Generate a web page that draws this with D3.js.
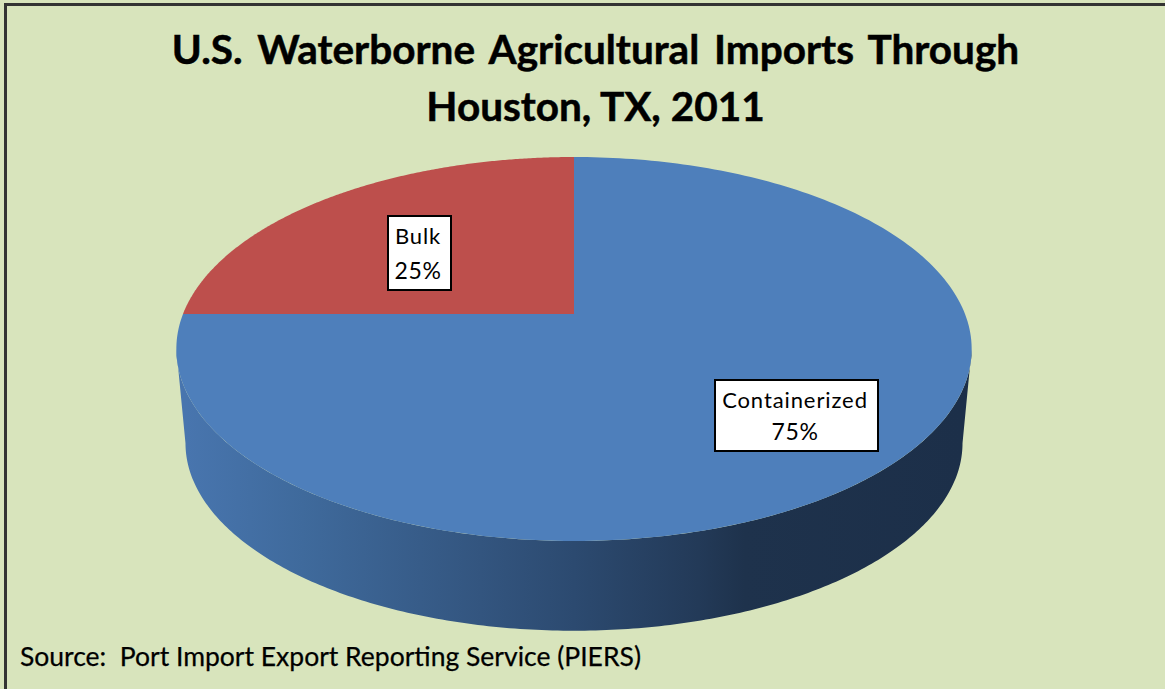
<!DOCTYPE html>
<html>
<head>
<meta charset="utf-8">
<script src="https://cdn.jsdelivr.net/npm/d3@7"></script>
<style>
html,body{margin:0;padding:0;background:#d8e4bc;overflow:hidden}
svg{display:block}
text{font-family:Lato,"Open Sans",sans-serif;fill:#000;white-space:pre}
</style>
</head>
<body>
<svg id="chart" width="1165" height="689"></svg>
<script>
const categories = ["Containerized", "Bulk"];
const values = [75, 25];
const sliceColors = ["#4e7fbb", "#bd4f4c"];
const titleLines = ["U.S. Waterborne Agricultural Imports Through", "Houston, TX, 2011"];
const sourceText = "Source:  Port Import Export Reporting Service (PIERS)";
const sideStops = [[0, "#4875ae"], [0.15, "#3f6a9c"], [0.38, "#33557f"], [0.5, "#2c4a70"], [0.66, "#233a58"], [0.72, "#1e324c"], [1, "#1c2f49"]];

const W = 1165, H = 689;
const svg = d3.select("#chart");

svg.append("rect").attr("width", W).attr("height", H).attr("fill", "#d8e4bc");
svg.append("path").attr("d", `M5.5,${H}V4.5H${W}`).attr("fill", "none").attr("stroke", "#333").attr("stroke-width", 3);

// tilted disc: projective view of a unit circle
const cx = 574, k = 0.1823;
const scaleU = d3.scaleLinear().domain([0, 1]).range([0, 391]);
const scaleV = d3.scaleLinear().domain([0, 1]).range([0, -185.6]);
const project = (a, yc, s) => {
  const u = Math.sin(a), v = Math.cos(a), w = 1 + k * v;
  return [cx + s * scaleU(u) / w, yc + s * scaleV(v) / w];
};
const topRim = a => project(a, 314, 1);
const baseRim = a => project(a, 409, 0.977);
const line = d3.line();
const sweep = (a0, a1, n = 240) => d3.range(n + 1).map(i => a0 + (a1 - a0) * i / n);

// side wall
const defs = svg.append("defs");
const grad = defs.append("linearGradient").attr("id", "side").attr("gradientUnits", "userSpaceOnUse")
  .attr("x1", 186).attr("x2", 962).attr("y1", 0).attr("y2", 0);
grad.selectAll("stop").data(sideStops).join("stop")
  .attr("offset", d => d[0]).attr("stop-color", d => d[1]);

const extreme = Math.acos(-k);            // where the rim reaches its widest
const lowerRim = sweep(extreme, 2 * Math.PI - extreme);
svg.append("path")
  .attr("d", line(lowerRim.map(topRim).concat(lowerRim.slice().reverse().map(baseRim))) + "Z")
  .attr("fill", "url(#side)");

// top face
const arcs = d3.pie().sort(null).startAngle(0).endAngle(2 * Math.PI)(values);
svg.selectAll("path.slice").data(arcs).join("path").attr("class", "slice")
  .attr("d", d => line([[cx, 314]].concat(sweep(d.startAngle, d.endAngle).map(topRim))) + "Z")
  .attr("fill", (d, i) => sliceColors[i]);

// title
svg.selectAll("text.title").data(titleLines).join("text").attr("class", "title")
  .attr("x", 595.5).attr("y", (d, i) => 64 + i * 57)
  .attr("text-anchor", "middle").attr("font-size", 40.5).attr("font-weight", 700)
  .attr("stroke", "#000").attr("stroke-width", 0.5)
  .attr("word-spacing", (d, i) => i ? 0 : 5)
  .text(d => d);

// data labels
const boxes = [{x: 715, y: 380, w: 163, h: 71, tx: 795, ty: 408, ty2: 440}, {x: 388, y: 216, w: 63, h: 74, tx: 418, ty: 244, ty2: 279}];
const labels = svg.selectAll("g.label").data(categories).join("g").attr("class", "label");
labels.append("rect")
  .attr("x", (d, i) => boxes[i].x).attr("y", (d, i) => boxes[i].y)
  .attr("width", (d, i) => boxes[i].w).attr("height", (d, i) => boxes[i].h)
  .attr("fill", "#fff").attr("stroke", "#000").attr("stroke-width", 2);
labels.append("text").attr("x", (d, i) => boxes[i].tx).attr("y", (d, i) => boxes[i].ty)
  .attr("text-anchor", "middle").attr("font-size", 22).attr("letter-spacing", 0.9).text(d => d);
labels.append("text").attr("x", (d, i) => boxes[i].tx).attr("y", (d, i) => boxes[i].ty2)
  .attr("text-anchor", "middle").attr("font-size", 23).attr("letter-spacing", 0.6)
  .text((d, i) => d3.format(".0%")(values[i] / d3.sum(values)));

// source
svg.append("text").attr("x", 20).attr("y", 666).attr("font-size", 26.5)
  .attr("stroke", "#000").attr("stroke-width", 0.25).text(sourceText);
</script>
</body>
</html>
